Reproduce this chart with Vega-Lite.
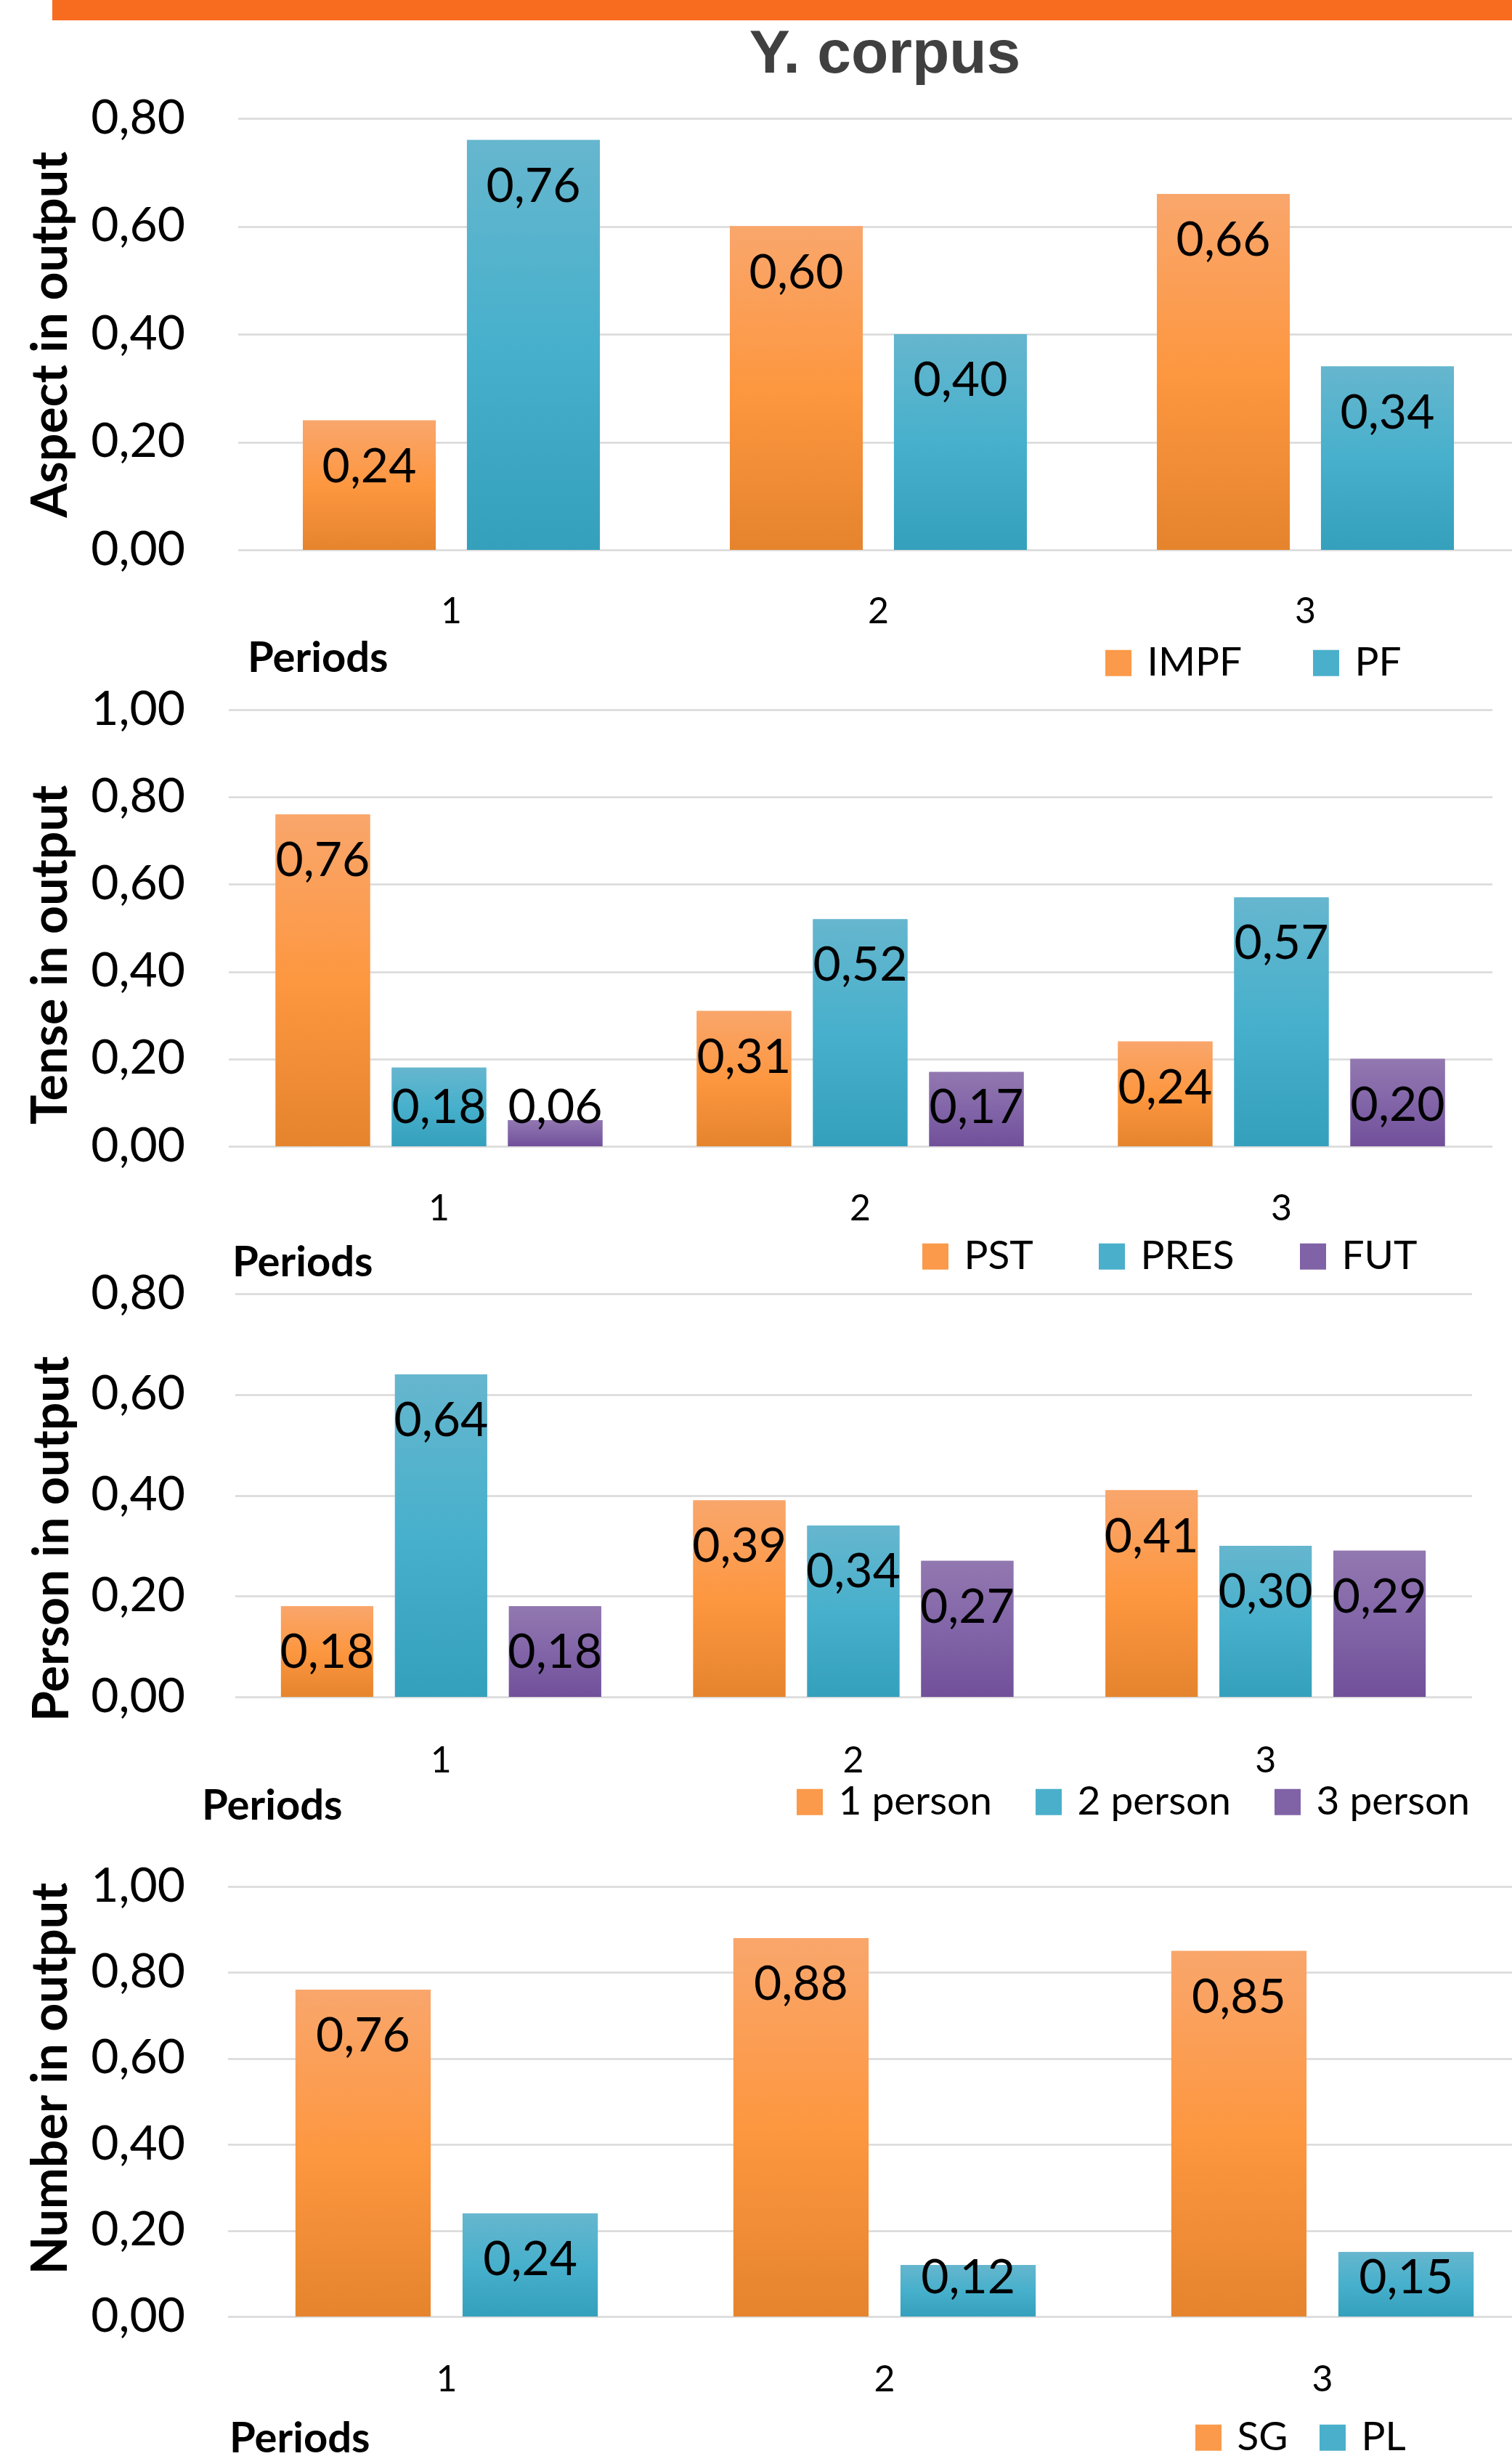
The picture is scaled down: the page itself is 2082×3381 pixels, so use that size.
{
  "$schema": "https://vega.github.io/schema/vega-lite/v6.json",
  "padding": {"left": 37, "top": 0, "right": 0, "bottom": 0},
  "autosize": {"type": "pad"},
  "background": "white",
  "config": {
    "locale": {"number": {"decimal": ",", "thousands": ".", "grouping": [3], "currency": ["", " €"]}},
    "font": "Lato",
    "view": {"stroke": null},
    "axis": {"labelFont": "Lato", "titleFont": "Lato", "labelColor": "#000000", "titleColor": "#000000", "domain": false, "ticks": false, "tickSize": 0},
    "axisY": {"grid": true, "gridColor": "#D9D9D9", "gridWidth": 2.5},
    "axisX": {"grid": false},
    "legend": {"labelFont": "Lato", "labelFontSize": 55, "labelColor": "#000000", "labelLimit": 500, "symbolType": "square", "symbolSize": 1296, "symbolStrokeWidth": 0, "labelOffset": 12, "padding": 0, "titlePadding": 0}
  },
  "spacing": 5,
  "center": true,
  "vconcat": [
    {
      "width": 2306, "height": 28,
      "view": {"fill": "#F86C1F", "stroke": null},
      "data": {"values": [{"a": 1}]},
      "mark": {"type": "point", "opacity": 0},
      "encoding": {}
    },
    {
      "bounds": "flush",
      "spacing": 161,
      "resolve": {"scale": {"color": "independent", "x": "independent", "y": "independent", "xOffset": "independent"}, "legend": {"color": "independent"}, "axis": {"x": "independent", "y": "independent"}},
      "vconcat": [
        {
          "width": 1762, "height": 653,
          "title": {"text": "Y. corpus", "font": "Liberation Sans", "fontSize": 84, "fontWeight": "bold", "color": "#404040", "anchor": "middle", "frame": "group", "baseline": "alphabetic", "offset": -54, "dx": 17},
          "data": {"values": [
            {"period": "1", "cat": "IMPF", "v": 0.24}, {"period": "1", "cat": "PF", "v": 0.76},
            {"period": "2", "cat": "IMPF", "v": 0.60}, {"period": "2", "cat": "PF", "v": 0.40},
            {"period": "3", "cat": "IMPF", "v": 0.66}, {"period": "3", "cat": "PF", "v": 0.34}
          ]},
          "encoding": {
            "x": {"field": "period", "type": "nominal", "scale": {"range": [7, 1771], "paddingInner": 0, "paddingOuter": 0},
              "axis": {"title": "Periods", "labelAngle": 0, "labelFontSize": 50, "labelBaseline": "alphabetic", "labelPadding": 41,
                "titleFontSize": 58, "titleFontWeight": "bold", "titleAlign": "left", "titleAnchor": "start", "titleBaseline": "alphabetic", "titleX": 20, "titleY": 108}},
            "xOffset": {"field": "cat", "type": "nominal", "sort": ["IMPF", "PF"], "scale": {"paddingInner": 0.19, "paddingOuter": 0.396}},
            "y": {"field": "v", "type": "quantitative", "scale": {"domain": [0, 0.8], "range": [594, 0], "nice": false},
              "axis": {"title": "Aspect in output", "values": [0, 0.2, 0.4, 0.6, 0.8], "format": ".2f", "labelFontSize": 66, "labelPadding": 66,
                "titleFontSize": 68, "titleFontWeight": "bold", "titleAngle": 270, "titleBaseline": "alphabetic", "titleAlign": "center", "titleX": -229, "titleY": 297}}
          },
          "layer": [
            {"mark": {"type": "bar"},
             "encoding": {"color": {"field": "cat", "type": "nominal",
               "scale": {"domain": ["IMPF", "PF"], "range": ["#FB9A4A", "#4AAFCB"]},
               "legend": {"orient": "none", "legendX": 1192, "legendY": 722, "direction": "horizontal", "columnPadding": 88, "title": null}}}},
            {"mark": {"type": "bar"},
             "encoding": {"color": {"condition": {"test": "datum.cat === 'IMPF'", "value": {"gradient": "linear", "x1": 0, "y1": 0, "x2": 0, "y2": 1, "stops": [{"offset": 0, "color": "#F9A66C"}, {"offset": 0.5, "color": "#FD9740"}, {"offset": 1, "color": "#E5842D"}]}},
               "value": {"gradient": "linear", "x1": 0, "y1": 0, "x2": 0, "y2": 1, "stops": [{"offset": 0, "color": "#66B6CE"}, {"offset": 0.5, "color": "#47B0CC"}, {"offset": 1, "color": "#35A0BC"}]}}}},
            {"mark": {"type": "text", "baseline": "alphabetic", "align": "center", "fontSize": 66, "font": "Lato", "color": "#000000", "dy": {"expr": "min(85, datum.v*742.5-32)"}},
             "encoding": {"text": {"field": "v", "type": "quantitative", "format": ".2f"}}}
          ]
        },
        {
          "width": 1734, "height": 643,
          "data": {"values": [
            {"period": "1", "cat": "PST", "v": 0.76}, {"period": "1", "cat": "PRES", "v": 0.18}, {"period": "1", "cat": "FUT", "v": 0.06},
            {"period": "2", "cat": "PST", "v": 0.31}, {"period": "2", "cat": "PRES", "v": 0.52}, {"period": "2", "cat": "FUT", "v": 0.17},
            {"period": "3", "cat": "PST", "v": 0.24}, {"period": "3", "cat": "PRES", "v": 0.57}, {"period": "3", "cat": "FUT", "v": 0.20}
          ]},
          "encoding": {
            "x": {"field": "period", "type": "nominal", "scale": {"range": [-6, 1734], "paddingInner": 0, "paddingOuter": 0},
              "axis": {"title": "Periods", "labelAngle": 0, "labelFontSize": 50, "labelBaseline": "alphabetic", "labelPadding": 59,
                "titleFontSize": 58, "titleFontWeight": "bold", "titleAlign": "left", "titleAnchor": "start", "titleBaseline": "alphabetic", "titleX": -1, "titleY": 136}},
            "xOffset": {"field": "cat", "type": "nominal", "sort": ["PST", "PRES", "FUT"], "scale": {"paddingInner": 0.1875, "paddingOuter": 0.406}},
            "y": {"field": "v", "type": "quantitative", "scale": {"domain": [0, 1], "range": [601, 0], "nice": false},
              "axis": {"title": "Tense in output", "values": [0, 0.2, 0.4, 0.6, 0.8, 1], "format": ".2f", "labelFontSize": 66, "labelPadding": 66,
                "titleFontSize": 68, "titleFontWeight": "bold", "titleAngle": 270, "titleBaseline": "alphabetic", "titleAlign": "center", "titleX": -229, "titleY": 337}}
          },
          "layer": [
            {"mark": {"type": "bar"},
             "encoding": {"color": {"field": "cat", "type": "nominal",
               "scale": {"domain": ["PST", "PRES", "FUT"], "range": ["#FB9A4A", "#4AAFCB", "#8062A6"]},
               "legend": {"orient": "none", "legendX": 940, "legendY": 725, "direction": "horizontal", "columnPadding": 80, "title": null}}}},
            {"mark": {"type": "bar"},
             "encoding": {"color": {"condition": [
                 {"test": "datum.cat === 'PST'", "value": {"gradient": "linear", "x1": 0, "y1": 0, "x2": 0, "y2": 1, "stops": [{"offset": 0, "color": "#F9A66C"}, {"offset": 0.5, "color": "#FD9740"}, {"offset": 1, "color": "#E5842D"}]}},
                 {"test": "datum.cat === 'PRES'", "value": {"gradient": "linear", "x1": 0, "y1": 0, "x2": 0, "y2": 1, "stops": [{"offset": 0, "color": "#66B6CE"}, {"offset": 0.5, "color": "#47B0CC"}, {"offset": 1, "color": "#35A0BC"}]}}
               ],
               "value": {"gradient": "linear", "x1": 0, "y1": 0, "x2": 0, "y2": 1, "stops": [{"offset": 0, "color": "#9278B0"}, {"offset": 0.5, "color": "#8265A8"}, {"offset": 1, "color": "#71509A"}]}}}},
            {"mark": {"type": "text", "baseline": "alphabetic", "align": "center", "fontSize": 66, "font": "Lato", "color": "#000000", "dy": {"expr": "min(85, datum.v*601-32)"}},
             "encoding": {"text": {"field": "v", "type": "quantitative", "format": ".2f"}}}
          ]
        },
        {
          "width": 1706, "height": 655,
          "data": {"values": [
            {"period": "1", "cat": "1 person", "v": 0.18}, {"period": "1", "cat": "2 person", "v": 0.64}, {"period": "1", "cat": "3 person", "v": 0.18},
            {"period": "2", "cat": "1 person", "v": 0.39}, {"period": "2", "cat": "2 person", "v": 0.34}, {"period": "2", "cat": "3 person", "v": 0.27},
            {"period": "3", "cat": "1 person", "v": 0.41}, {"period": "3", "cat": "2 person", "v": 0.30}, {"period": "3", "cat": "3 person", "v": 0.29}
          ]},
          "encoding": {
            "x": {"field": "period", "type": "nominal", "scale": {"range": [3, 1706], "paddingInner": 0, "paddingOuter": 0},
              "axis": {"title": "Periods", "labelAngle": 0, "labelFontSize": 50, "labelBaseline": "alphabetic", "labelPadding": 3,
                "titleFontSize": 58, "titleFontWeight": "bold", "titleAlign": "left", "titleAnchor": "start", "titleBaseline": "alphabetic", "titleX": -43, "titleY": 68}},
            "xOffset": {"field": "cat", "type": "nominal", "sort": ["1 person", "2 person", "3 person"], "scale": {"paddingInner": 0.191, "paddingOuter": 0.404}},
            "y": {"field": "v", "type": "quantitative", "scale": {"domain": [0, 0.8], "range": [555, 0], "nice": false},
              "axis": {"title": "Person in output", "values": [0, 0.2, 0.4, 0.6, 0.8], "format": ".2f", "labelFontSize": 66, "labelPadding": 66,
                "titleFontSize": 68, "titleFontWeight": "bold", "titleAngle": 270, "titleBaseline": "alphabetic", "titleAlign": "center", "titleX": -227, "titleY": 337}}
          },
          "layer": [
            {"mark": {"type": "bar"},
             "encoding": {"color": {"field": "cat", "type": "nominal",
               "scale": {"domain": ["1 person", "2 person", "3 person"], "range": ["#FB9A4A", "#4AAFCB", "#8062A6"]},
               "legend": {"orient": "none", "legendX": 767, "legendY": 672, "direction": "horizontal", "columnPadding": 50, "title": null}}}},
            {"mark": {"type": "bar"},
             "encoding": {"color": {"condition": [
                 {"test": "datum.cat === '1 person'", "value": {"gradient": "linear", "x1": 0, "y1": 0, "x2": 0, "y2": 1, "stops": [{"offset": 0, "color": "#F9A66C"}, {"offset": 0.5, "color": "#FD9740"}, {"offset": 1, "color": "#E5842D"}]}},
                 {"test": "datum.cat === '2 person'", "value": {"gradient": "linear", "x1": 0, "y1": 0, "x2": 0, "y2": 1, "stops": [{"offset": 0, "color": "#66B6CE"}, {"offset": 0.5, "color": "#47B0CC"}, {"offset": 1, "color": "#35A0BC"}]}}
               ],
               "value": {"gradient": "linear", "x1": 0, "y1": 0, "x2": 0, "y2": 1, "stops": [{"offset": 0, "color": "#9278B0"}, {"offset": 0.5, "color": "#8265A8"}, {"offset": 1, "color": "#71509A"}]}}}},
            {"mark": {"type": "text", "baseline": "alphabetic", "align": "center", "fontSize": 66, "font": "Lato", "color": "#000000", "dy": {"expr": "min(85, datum.v*693.75-32)"}},
             "encoding": {"text": {"field": "v", "type": "quantitative", "format": ".2f"}}}
          ]
        },
        {
          "width": 1762, "height": 592,
          "data": {"values": [
            {"period": "1", "cat": "SG", "v": 0.76}, {"period": "1", "cat": "PL", "v": 0.24},
            {"period": "2", "cat": "SG", "v": 0.88}, {"period": "2", "cat": "PL", "v": 0.12},
            {"period": "3", "cat": "SG", "v": 0.85}, {"period": "3", "cat": "PL", "v": 0.15}
          ]},
          "encoding": {
            "x": {"field": "period", "type": "nominal", "scale": {"range": [-7, 1802], "paddingInner": 0, "paddingOuter": 0},
              "axis": {"title": "Periods", "labelAngle": 0, "labelFontSize": 50, "labelBaseline": "alphabetic", "labelPadding": 102,
                "titleFontSize": 58, "titleFontWeight": "bold", "titleAlign": "left", "titleAnchor": "start", "titleBaseline": "alphabetic", "titleX": -5, "titleY": 186}},
            "xOffset": {"field": "cat", "type": "nominal", "sort": ["SG", "PL"], "scale": {"paddingInner": 0.191, "paddingOuter": 0.406}},
            "y": {"field": "v", "type": "quantitative", "scale": {"domain": [0, 1], "nice": false},
              "axis": {"title": "Number in output", "values": [0, 0.2, 0.4, 0.6, 0.8, 1], "format": ".2f", "labelFontSize": 66, "labelPadding": 66,
                "titleFontSize": 68, "titleFontWeight": "bold", "titleAngle": 270, "titleBaseline": "alphabetic", "titleAlign": "center", "titleX": -229, "titleY": 264}}
          },
          "layer": [
            {"mark": {"type": "bar"},
             "encoding": {"color": {"field": "cat", "type": "nominal",
               "scale": {"domain": ["SG", "PL"], "range": ["#FB9A4A", "#4AAFCB"]},
               "legend": {"orient": "none", "legendX": 1316, "legendY": 731, "direction": "horizontal", "columnPadding": 33, "title": null}}}},
            {"mark": {"type": "bar"},
             "encoding": {"color": {"condition": {"test": "datum.cat === 'SG'", "value": {"gradient": "linear", "x1": 0, "y1": 0, "x2": 0, "y2": 1, "stops": [{"offset": 0, "color": "#F9A66C"}, {"offset": 0.5, "color": "#FD9740"}, {"offset": 1, "color": "#E5842D"}]}},
               "value": {"gradient": "linear", "x1": 0, "y1": 0, "x2": 0, "y2": 1, "stops": [{"offset": 0, "color": "#66B6CE"}, {"offset": 0.5, "color": "#47B0CC"}, {"offset": 1, "color": "#35A0BC"}]}}}},
            {"mark": {"type": "text", "baseline": "alphabetic", "align": "center", "fontSize": 66, "font": "Lato", "color": "#000000", "dy": {"expr": "min(85, datum.v*592-32)"}},
             "encoding": {"text": {"field": "v", "type": "quantitative", "format": ".2f"}}}
          ]
        }
      ]
    }
  ]
}
